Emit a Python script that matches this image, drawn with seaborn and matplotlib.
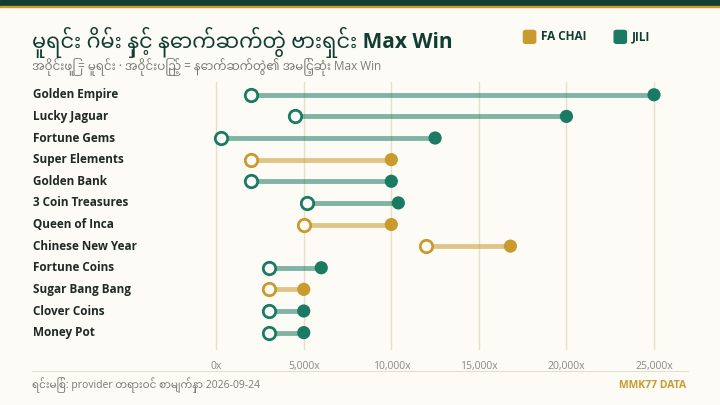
import matplotlib.pyplot as plt
import matplotlib.transforms as mtransforms
from matplotlib.patches import FancyBboxPatch
import seaborn as sns
import pandas as pd

games = ['Golden Empire', 'Lucky Jaguar', 'Fortune Gems', 'Super Elements', 'Golden Bank',
         '3 Coin Treasures', 'Queen of Inca', 'Chinese New Year', 'Fortune Coins',
         'Sugar Bang Bang', 'Clover Coins', 'Money Pot']
provider = ['JILI', 'JILI', 'JILI', 'FA CHAI', 'JILI', 'JILI', 'FA CHAI', 'FA CHAI',
            'JILI', 'FA CHAI', 'JILI', 'JILI']
base_win = [2000, 4500, 300, 2000, 2000, 5200, 5000, 12000, 3000, 3000, 3000, 3000]
max_win = [25000, 20000, 12500, 10000, 10000, 10400, 10000, 16800, 6000, 5000, 5000, 5000]

colors = {'FA CHAI': '#C99A2E', 'JILI': '#1A7A62'}
bg = '#FCFBF6'
dark = '#123D33'
fonts = ['Open Sans', 'Noto Sans Myanmar', 'DejaVu Sans']
latin_bold = ['Open Sans', 'DejaVu Sans']

df = pd.DataFrame({'game': games, 'provider': provider, 'base': base_win, 'max': max_win})

sns.set_theme(style='white')
plt.rcParams['font.family'] = fonts

fig = plt.figure(figsize=(7.2, 4.05), dpi=100, facecolor=bg)
ax = fig.add_axes([0.285, 0.136, 0.64, 0.662])
ax.set_facecolor(bg)

y = list(range(len(games)))
for i, r in df.iterrows():
    c = colors[r['provider']]
    ax.plot([r['base'], r['max']], [i, i], color=c, lw=3.5, alpha=0.55, solid_capstyle='butt', zorder=2)
sns.scatterplot(data=df, x='max', y='game', hue='provider', palette=colors, s=90,
                edgecolor='none', legend=False, ax=ax, zorder=4)
for i, r in df.iterrows():
    ax.scatter(r['base'], i, s=80, facecolor=bg, edgecolor=colors[r['provider']], lw=2, zorder=4)

ax.set_xlim(-628, 25685)
ax.set_ylim(11.8, -0.6)
ticks = [0, 5000, 10000, 15000, 20000, 25000]
ax.set_xticks(ticks)
ax.set_xticklabels([f'{t:,}x' for t in ticks], fontsize=7.5, color='#8A8A80')
ax.set_yticks(y)
ax.set_yticklabels([])
trans = mtransforms.blended_transform_factory(fig.transFigure, ax.transData)
for i, g in enumerate(games):
    ax.text(0.046, i, g, transform=trans, fontsize=8.5, fontweight='bold', color='#1F2A26',
            va='center', ha='left', family=latin_bold)
ax.tick_params(axis='both', length=0)
ax.tick_params(axis='x', pad=8)
ax.grid(axis='x', color='#E4E0CC', lw=1)
ax.set_xlabel('')
ax.set_ylabel('')
for s in ax.spines.values():
    s.set_visible(False)

# top band
fig.patches.append(plt.Rectangle((0, 0.985), 1, 0.015, transform=fig.transFigure, color=dark))
fig.patches.append(plt.Rectangle((0, 0.982), 1, 0.004, transform=fig.transFigure, color='#C99A2E'))

fig.text(0.045, 0.895, 'မူရင်း ဂိမ်း နှင့် နောက်ဆက်တွဲ ဗားရှင်း Max Win', fontsize=15,
         fontweight='bold', color=dark, va='center')
fig.text(0.045, 0.835, 'အဝိုင်းဖြူ = မူရင်း · အဝိုင်းပြည့် = နောက်ဆက်တွဲ၏ အမြင့်ဆုံး Max Win',
         fontsize=8.5, color='#7A7A72', va='center')

for x0, key in [(0.727, 'FA CHAI'), (0.853, 'JILI')]:
    fig.patches.append(FancyBboxPatch((x0, 0.893), 0.017, 0.032, boxstyle='round,pad=0,rounding_size=0.004',
                                      transform=fig.transFigure, color=colors[key]))
    fig.text(x0 + 0.025, 0.909, key, fontsize=8.5, fontweight='bold', color=dark, va='center',
             family=latin_bold)

fig.add_artist(plt.Line2D([0.045, 0.955], [0.085, 0.085], transform=fig.transFigure, color='#E4E0CC', lw=0.8))
fig.text(0.045, 0.048, 'ရင်းမြစ်: provider တရားဝင် စာမျက်နှာ 2026-09-24', fontsize=7.5,
         color='#7A7A72', va='center')
fig.text(0.953, 0.048, 'MMK77 DATA', fontsize=7.5, fontweight='bold', color='#C99A2E',
         va='center', ha='right', family=latin_bold)

fig.savefig('out.png', dpi=100, facecolor=bg)
